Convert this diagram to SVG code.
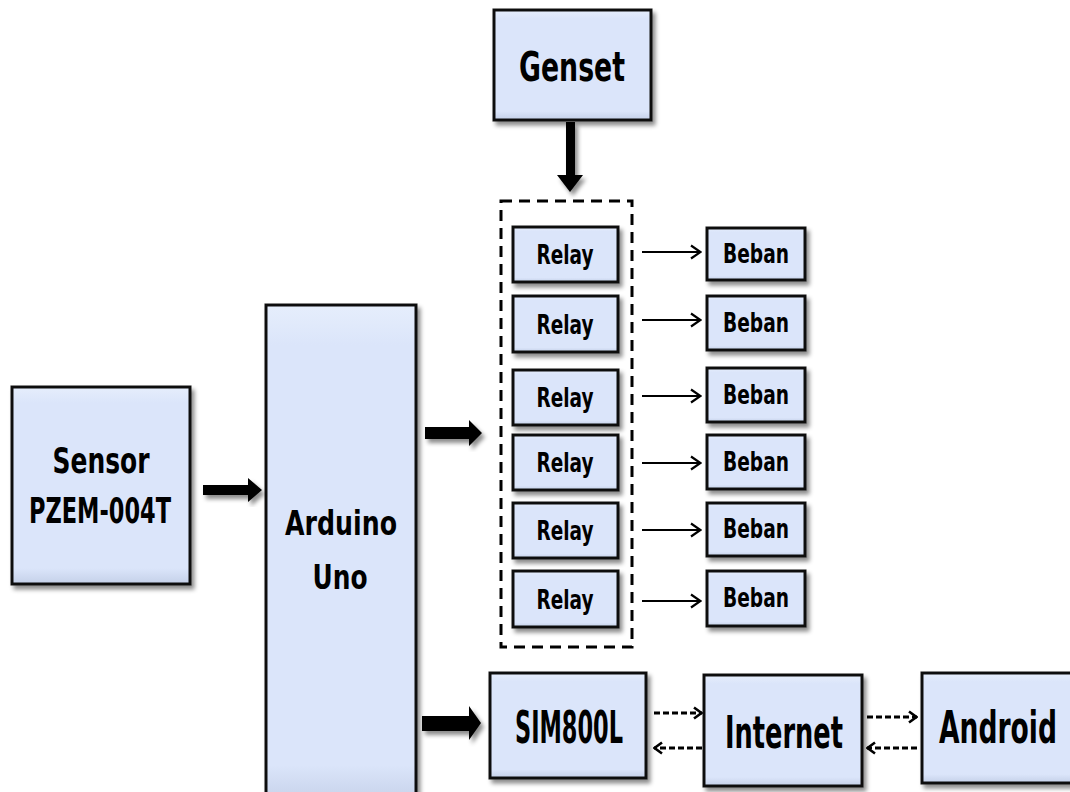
<svg xmlns="http://www.w3.org/2000/svg" width="1070" height="792" viewBox="0 0 1070 792">
<defs>
<linearGradient id="g" x1="0" y1="0" x2="0" y2="1">
<stop offset="0" stop-color="#e6eefc"/>
<stop offset="0.08" stop-color="#dbe5fa"/>
<stop offset="0.92" stop-color="#dbe5fa"/>
<stop offset="1" stop-color="#c4d0e8"/>
</linearGradient>
<filter id="sh" x="-10%" y="-10%" width="130%" height="130%">
<feDropShadow dx="3" dy="4" stdDeviation="2" flood-color="#000" flood-opacity="0.45"/>
</filter>
<marker id="open" viewBox="0 0 14 16" refX="13" refY="8" markerWidth="14" markerHeight="16" markerUnits="userSpaceOnUse" orient="auto">
<path d="M3,1.5 L12.5,8 L3,14.5" fill="none" stroke="#000" stroke-width="2.2"/>
</marker>
<marker id="open2" viewBox="0 0 12 14" refX="11" refY="7" markerWidth="12" markerHeight="14" markerUnits="userSpaceOnUse" orient="auto">
<path d="M3,1.5 L10.5,7 L3,12.5" fill="none" stroke="#000" stroke-width="2.6"/>
</marker>
</defs>
<style>
.box{fill:url(#g);stroke:#111;stroke-width:3;filter:url(#sh)}
.t{font-family:"DejaVu Sans","Liberation Sans",sans-serif;font-stretch:condensed;font-weight:bold;fill:#000;text-anchor:middle}
.thin{stroke:#000;stroke-width:2;fill:none;marker-end:url(#open)}
.dash{stroke:#000;stroke-width:3;stroke-dasharray:6,3;fill:none;marker-end:url(#open2)}
.blk{fill:#000;filter:url(#sh)}
</style>
<rect width="1070" height="792" fill="#fff"/>

<g id="genset"><rect class="box" x="494" y="10" width="157" height="110"/><text class="t" x="572" y="81" font-size="40" textLength="106" lengthAdjust="spacingAndGlyphs">Genset</text></g>
<g id="sensor"><rect class="box" x="12" y="387" width="178" height="197"/><text class="t" x="101" y="473" font-size="36" textLength="97" lengthAdjust="spacingAndGlyphs">Sensor</text><text class="t" x="100" y="523" font-size="36" textLength="142" lengthAdjust="spacingAndGlyphs">PZEM-004T</text></g>
<g id="arduino"><rect class="box" x="266" y="305" width="150" height="500"/><text class="t" x="341" y="535" font-size="34" textLength="112" lengthAdjust="spacingAndGlyphs">Arduino</text><text class="t" x="340" y="589" font-size="34" textLength="55" lengthAdjust="spacingAndGlyphs">Uno</text></g>

<g id="relaygroup"><rect x="501" y="201" width="131" height="446" fill="none" stroke="#000" stroke-width="3" stroke-dasharray="11,7"/></g>
<g id="relay1"><rect class="box" x="513" y="227" width="105" height="55"/><text class="t" x="565" y="264" font-size="26" textLength="57" lengthAdjust="spacingAndGlyphs">Relay</text></g>
<g id="relay2"><rect class="box" x="513" y="296" width="105" height="56"/><text class="t" x="565" y="334" font-size="26" textLength="57" lengthAdjust="spacingAndGlyphs">Relay</text></g>
<g id="relay3"><rect class="box" x="513" y="370" width="105" height="55"/><text class="t" x="565" y="407" font-size="26" textLength="57" lengthAdjust="spacingAndGlyphs">Relay</text></g>
<g id="relay4"><rect class="box" x="513" y="435" width="105" height="55"/><text class="t" x="565" y="472" font-size="26" textLength="57" lengthAdjust="spacingAndGlyphs">Relay</text></g>
<g id="relay5"><rect class="box" x="513" y="503" width="105" height="55"/><text class="t" x="565" y="540" font-size="26" textLength="57" lengthAdjust="spacingAndGlyphs">Relay</text></g>
<g id="relay6"><rect class="box" x="513" y="571" width="105" height="56"/><text class="t" x="565" y="609" font-size="26" textLength="57" lengthAdjust="spacingAndGlyphs">Relay</text></g>

<g id="beban1"><rect class="box" x="707" y="228" width="98" height="52"/><text class="t" x="756" y="263" font-size="26" textLength="66" lengthAdjust="spacingAndGlyphs">Beban</text></g>
<g id="beban2"><rect class="box" x="707" y="296" width="98" height="54"/><text class="t" x="756" y="332" font-size="26" textLength="66" lengthAdjust="spacingAndGlyphs">Beban</text></g>
<g id="beban3"><rect class="box" x="707" y="368" width="98" height="54"/><text class="t" x="756" y="404" font-size="26" textLength="66" lengthAdjust="spacingAndGlyphs">Beban</text></g>
<g id="beban4"><rect class="box" x="707" y="435" width="98" height="54"/><text class="t" x="756" y="471" font-size="26" textLength="66" lengthAdjust="spacingAndGlyphs">Beban</text></g>
<g id="beban5"><rect class="box" x="707" y="503" width="98" height="53"/><text class="t" x="756" y="538" font-size="26" textLength="66" lengthAdjust="spacingAndGlyphs">Beban</text></g>
<g id="beban6"><rect class="box" x="707" y="571" width="98" height="55"/><text class="t" x="756" y="607" font-size="26" textLength="66" lengthAdjust="spacingAndGlyphs">Beban</text></g>

<g id="sim800l"><rect class="box" x="490" y="673" width="156" height="105"/><text class="t" x="569" y="743" font-size="44" textLength="108" lengthAdjust="spacingAndGlyphs">SIM800L</text></g>
<g id="internet"><rect class="box" x="704" y="675" width="158" height="111"/><text class="t" x="784" y="748" font-size="44" textLength="118" lengthAdjust="spacingAndGlyphs">Internet</text></g>
<g id="android"><rect class="box" x="922" y="673" width="160" height="110"/><text class="t" x="998" y="743" font-size="44" textLength="118" lengthAdjust="spacingAndGlyphs">Android</text></g>

<g id="connectors">
<polygon class="blk" points="566,122 575,122 575,175 583,175 570,192 557,175 566,175"/>
<polygon class="blk" points="203,485 248,485 248,478 262,490 248,502 248,495 203,495"/>
<polygon class="blk" points="425,427 469,427 469,420 482,433 469,446 469,439 425,439"/>
<polygon class="blk" points="422,716 469,716 469,706 481,723 469,740 469,731 422,731"/>
<line class="thin" x1="642" y1="252" x2="701" y2="252"/>
<line class="thin" x1="642" y1="320" x2="701" y2="320"/>
<line class="thin" x1="642" y1="396" x2="701" y2="396"/>
<line class="thin" x1="642" y1="463" x2="701" y2="463"/>
<line class="thin" x1="642" y1="530" x2="701" y2="530"/>
<line class="thin" x1="642" y1="601" x2="701" y2="601"/>
<line class="dash" x1="654" y1="713" x2="702" y2="713"/>
<line class="dash" x1="702" y1="748" x2="654" y2="748"/>
<line class="dash" x1="867" y1="717" x2="917" y2="717"/>
<line class="dash" x1="917" y1="748" x2="867" y2="748"/>
</g>
</svg>
